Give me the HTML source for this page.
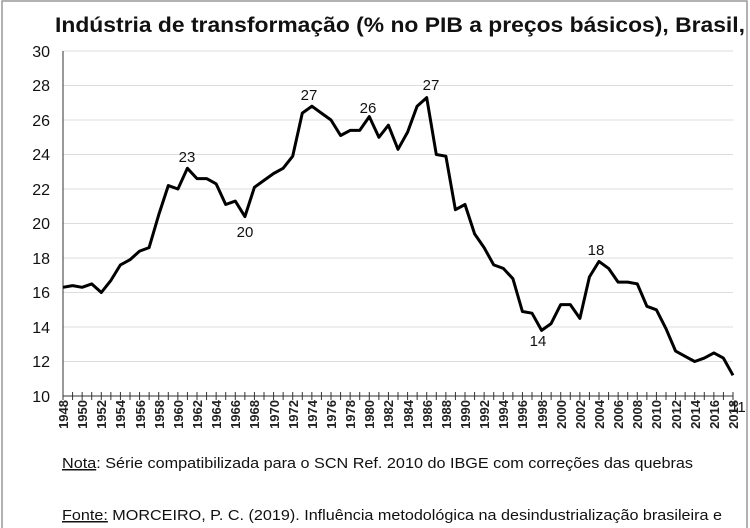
<!DOCTYPE html>
<html><head><meta charset="utf-8"><style>
body{margin:0;background:#fff;}
svg{display:block;font-family:"Liberation Sans",Arial,sans-serif;}
</style></head><body>
<svg width="750" height="528" viewBox="0 0 750 528">
<rect x="2" y="1" width="745" height="530" fill="#fff" stroke="#999" stroke-width="1.5"/>
<text x="55" y="32" font-size="21" font-weight="bold" fill="#111" textLength="690" lengthAdjust="spacingAndGlyphs">Indústria de transformação (% no PIB a preços básicos), Brasil,</text>
<g stroke="#ddd" stroke-width="1">
<line x1="63" y1="51" x2="733" y2="51"/><line x1="63" y1="85.5" x2="733" y2="85.5"/><line x1="63" y1="120" x2="733" y2="120"/><line x1="63" y1="154.5" x2="733" y2="154.5"/><line x1="63" y1="189" x2="733" y2="189"/><line x1="63" y1="223.5" x2="733" y2="223.5"/><line x1="63" y1="258" x2="733" y2="258"/><line x1="63" y1="292.5" x2="733" y2="292.5"/><line x1="63" y1="327" x2="733" y2="327"/><line x1="63" y1="361.5" x2="733" y2="361.5"/>
</g>
<line x1="63" y1="51" x2="63" y2="396" stroke="#333"/>
<line x1="63" y1="396" x2="733" y2="396" stroke="#333"/>
<g font-size="16" fill="#111" text-anchor="end">
<text x="50" y="57">30</text><text x="50" y="91">28</text><text x="50" y="126">26</text><text x="50" y="160">24</text><text x="50" y="195">22</text><text x="50" y="229">20</text><text x="50" y="264">18</text><text x="50" y="298">16</text><text x="50" y="333">14</text><text x="50" y="367">12</text><text x="50" y="402">10</text>
</g>
<g id="ticks" stroke="#333"></g>
<polyline id="ln" fill="none" stroke="#000" stroke-width="3" stroke-linejoin="round"/>
<g font-size="15" fill="#111" text-anchor="middle">
<text x="187" y="162">23</text><text x="245" y="237">20</text><text x="309" y="100">27</text><text x="368" y="113">26</text><text x="431" y="90">27</text><text x="538" y="346">14</text><text x="596" y="255">18</text><text x="738" y="412">11</text>
</g>
<g font-size="13" font-weight="bold" fill="#222" text-anchor="end">
<text transform="translate(68,400) rotate(-90)">1948</text><text transform="translate(87,400) rotate(-90)">1950</text><text transform="translate(106,400) rotate(-90)">1952</text><text transform="translate(125,400) rotate(-90)">1954</text><text transform="translate(145,400) rotate(-90)">1956</text><text transform="translate(164,400) rotate(-90)">1958</text><text transform="translate(183,400) rotate(-90)">1960</text><text transform="translate(202,400) rotate(-90)">1962</text><text transform="translate(221,400) rotate(-90)">1964</text><text transform="translate(240,400) rotate(-90)">1966</text><text transform="translate(259,400) rotate(-90)">1968</text><text transform="translate(279,400) rotate(-90)">1970</text><text transform="translate(298,400) rotate(-90)">1972</text><text transform="translate(317,400) rotate(-90)">1974</text><text transform="translate(336,400) rotate(-90)">1976</text><text transform="translate(355,400) rotate(-90)">1978</text><text transform="translate(374,400) rotate(-90)">1980</text><text transform="translate(393,400) rotate(-90)">1982</text><text transform="translate(413,400) rotate(-90)">1984</text><text transform="translate(432,400) rotate(-90)">1986</text><text transform="translate(451,400) rotate(-90)">1988</text><text transform="translate(470,400) rotate(-90)">1990</text><text transform="translate(489,400) rotate(-90)">1992</text><text transform="translate(508,400) rotate(-90)">1994</text><text transform="translate(527,400) rotate(-90)">1996</text><text transform="translate(547,400) rotate(-90)">1998</text><text transform="translate(566,400) rotate(-90)">2000</text><text transform="translate(585,400) rotate(-90)">2002</text><text transform="translate(604,400) rotate(-90)">2004</text><text transform="translate(623,400) rotate(-90)">2006</text><text transform="translate(642,400) rotate(-90)">2008</text><text transform="translate(661,400) rotate(-90)">2010</text><text transform="translate(681,400) rotate(-90)">2012</text><text transform="translate(700,400) rotate(-90)">2014</text><text transform="translate(719,400) rotate(-90)">2016</text><text transform="translate(738,400) rotate(-90)">2018</text>
</g>
<text x="62" y="468" font-size="15" fill="#111" textLength="631" lengthAdjust="spacingAndGlyphs"><tspan text-decoration="underline">Nota</tspan>: Série compatibilizada para o SCN Ref. 2010 do IBGE com correções das quebras</text>
<text x="62" y="520" font-size="15" fill="#111" textLength="660" lengthAdjust="spacingAndGlyphs"><tspan text-decoration="underline">Fonte:</tspan> MORCEIRO, P. C. (2019). Influência metodológica na desindustrialização brasileira e</text>
</svg>
<script>
var d=[16.3,16.4,16.3,16.5,16.0,16.7,17.6,17.9,18.4,18.6,20.5,22.2,22.0,23.2,22.6,22.6,22.3,21.1,21.3,20.4,22.1,22.5,22.9,23.2,23.9,26.4,26.8,26.4,26.0,25.1,25.4,25.4,26.2,25.0,25.7,24.3,25.3,26.8,27.3,24.0,23.9,20.8,21.1,19.4,18.6,17.6,17.4,16.8,14.9,14.8,13.8,14.2,15.3,15.3,14.5,16.9,17.8,17.4,16.6,16.6,16.5,15.2,15.0,13.9,12.6,12.3,12.0,12.2,12.5,12.2,11.2];
var s=(733-63)/70,p=[],t="";
for(var i=0;i<d.length;i++){var x=63+i*s;p.push(x.toFixed(1)+","+(396-(d[i]-10)*17.25).toFixed(1));t+='<line x1="'+x+'" y1="392" x2="'+x+'" y2="400"/>';}
document.getElementById("ln").setAttribute("points",p.join(" "));
document.getElementById("ticks").innerHTML=t;
</script>
</body></html>
